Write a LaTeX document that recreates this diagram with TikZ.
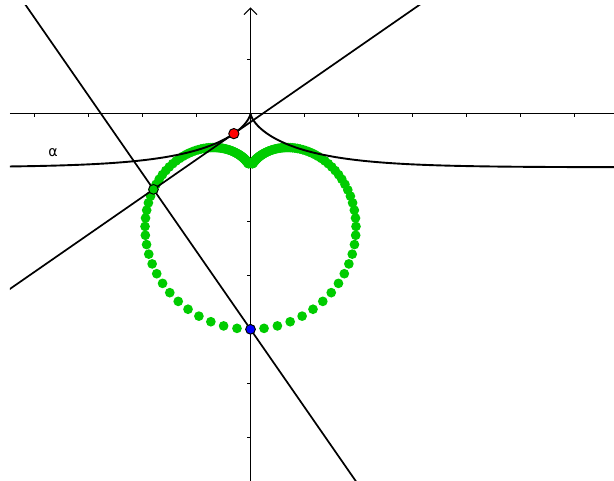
\documentclass[tikz,border=0pt]{standalone}
\usepackage{fontspec}
\setmainfont{DejaVu Sans}
\usepackage{tikz}
\usetikzlibrary{arrows.meta,calc}
\definecolor{locgreen}{RGB}{0,204,0}
\definecolor{ptred}{RGB}{255,0,0}
\definecolor{ptblue}{RGB}{0,0,255}

\begin{document}
\begin{tikzpicture}[
        axisline/.style={line width=0.5pt},
        alphacurve/.style={line width=1pt},
        auxline/.style={line width=0.9pt},
        locdot/.style={fill=locgreen},
        ptmark/.style={draw=black, line width=0.5pt}]
        \def\tscale{1.15}
        \def\tzero{-1.05}
        \useasboundingbox (-4.639,-6.809) rectangle (6.731,2.098);
        \clip (-4.454,-6.809) rectangle (6.731,1.99);
        \draw[axisline] (-4.454,0) -- (6.8,0);
        \draw[axisline, -{Straight Barb[length=1.2mm]}] (0,-6.9) -- (0,1.96);
        \foreach \i in {-4,-3,-2,-1,1,2,3,4,5,6} \draw[axisline] (\i,0) -- (\i,-0.06);
        \foreach \j in {-6,-5,-4,-3,-2,-1,1} \draw[axisline] (0,\j) -- (-0.06,\j);
        \foreach \i in {0,...,91} {
          \pgfmathsetmacro{\tp}{0.055*\i}
          \pgfmathsetmacro{\tht}{tanh(\tp)}
          \pgfmathsetmacro{\sch}{1/cosh(\tp)}
          \pgfmathsetmacro{\qx}{\tscale*(\tp-(\tht))}
          \pgfmathsetmacro{\qy}{(\sch)-1}
          \pgfmathsetmacro{\dn}{sqrt((\tscale*(\tht))^2+(\sch)^2)}
          \pgfmathsetmacro{\ux}{\tscale*(\tht)/(\dn)}
          \pgfmathsetmacro{\uy}{0-(\sch)/(\dn)}
          \pgfmathsetmacro{\kk}{0-(\qx)*(\ux)+(-4-(\qy))*(\uy)}
          \pgfmathsetmacro{\fx}{(\qx)+(\kk)*(\ux)}
          \pgfmathsetmacro{\fy}{(\qy)+(\kk)*(\uy)}
          \fill[locdot] (\fx,\fy) circle (0.09);
          \fill[locdot] ({0-(\fx)},\fy) circle (0.09);
        }
        \draw[alphacurve] plot[domain=0:8.5, samples=150, variable=\s] ({\tscale*(\s-tanh(\s))},{1/cosh(\s)-1});
        \draw[alphacurve] plot[domain=0:-6, samples=120, variable=\s] ({\tscale*(\s-tanh(\s))},{1/cosh(\s)-1});
        \node[font=\fontsize{7.5}{8}\selectfont] (alab) at (-3.657,-0.735) {α};
        \coordinate (P) at (0,-4);
        \coordinate (Q) at ({\tscale*(\tzero-tanh(\tzero))},{1/cosh(\tzero)-1});
        \coordinate (Qd) at ($(Q)+({\tscale*tanh(\tzero)},{-1/cosh(\tzero)})$);
        \coordinate (F) at ($(Q)!(P)!(Qd)$);
        \draw[auxline] ($(Q)!-20!(Qd)$) -- ($(Q)!20!(Qd)$);
        \draw[auxline] ($(F)!-3!(P)$) -- ($(F)!3!(P)$);
        \fill[ptmark, fill=ptred] (Q) circle (0.095);
        \fill[ptmark, fill=locgreen] (F) circle (0.09);
        \fill[ptmark, fill=ptblue] (P) circle (0.09);
\end{tikzpicture}
\end{document}
